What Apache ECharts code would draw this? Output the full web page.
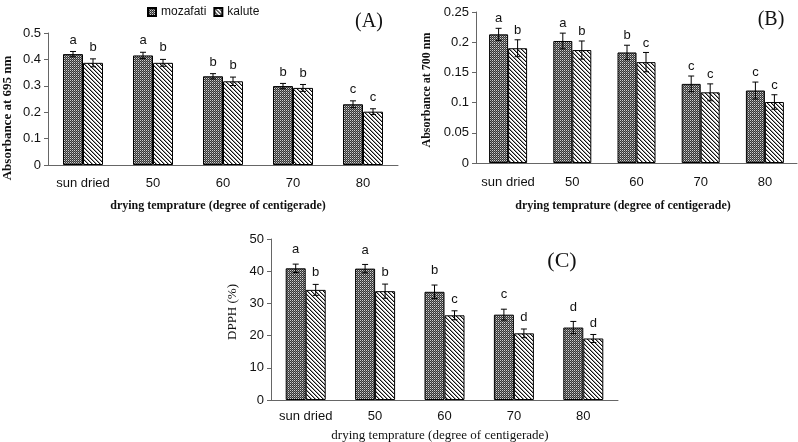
<!DOCTYPE html>
<html><head><meta charset="utf-8">
<script src="https://cdn.jsdelivr.net/npm/echarts@6/dist/echarts.min.js"></script>
<style>html,body{margin:0;padding:0;background:#fff}#c{width:798px;height:442px}</style>
</head><body><div id="c"></div>
<script>
// ---------- data ----------
const categories = ['sun dried', '50', '60', '70', '80'];
const seriesNames = ['mozafati', 'kalute'];

// Panel A: Absorbance at 695 nm
const absA_moz = [0.420, 0.415, 0.336, 0.299, 0.230];
const absA_kal = [0.387, 0.387, 0.317, 0.292, 0.202];
const errA_moz = [0.010, 0.012, 0.010, 0.010, 0.013];
const errA_kal = [0.015, 0.013, 0.016, 0.013, 0.011];
const letA_moz = ['a', 'a', 'b', 'b', 'c'];
const letA_kal = ['b', 'b', 'b', 'b', 'c'];

// Panel B: Absorbance at 700 nm
const absB_moz = [0.213, 0.202, 0.183, 0.131, 0.120];
const absB_kal = [0.190, 0.187, 0.167, 0.117, 0.101];
const errB_moz = [0.010, 0.013, 0.012, 0.013, 0.014];
const errB_kal = [0.014, 0.015, 0.016, 0.014, 0.012];
const letB_moz = ['a', 'a', 'b', 'c', 'c'];
const letB_kal = ['b', 'b', 'c', 'c', 'c'];

// Panel C: DPPH (%)
const dpph_moz = [40.9, 40.8, 33.6, 26.5, 22.5];
const dpph_kal = [34.2, 33.8, 26.3, 20.7, 19.1];
const errC_moz = [1.3, 1.3, 2.1, 1.7, 1.9];
const errC_kal = [1.7, 2.2, 1.4, 1.35, 1.25];
const letC_moz = ['a', 'a', 'b', 'c', 'd'];
const letC_kal = ['b', 'b', 'c', 'd', 'd'];

const axisA = {min: 0, max: 0.5, interval: 0.1};
const axisB = {min: 0, max: 0.25, interval: 0.05};
const axisC = {min: 0, max: 50, interval: 10};

const titleA_y = 'Absorbance at 695 nm';
const titleB_y = 'Absorbance at 700 nm';
const titleC_y = 'DPPH (%)';
const titleX = 'drying temprature (degree of centigerade)';
const panelTags = ['(A)', '(B)', '(C)'];

// ---------- patterns ----------
function makeChecker() {
  const c = document.createElement('canvas'); c.width = 4; c.height = 4;
  const g = c.getContext('2d');
  g.fillStyle = '#353535'; g.fillRect(0, 0, 4, 4);
  g.fillStyle = '#d0d0d0';
  [[0,0],[2,0],[0,2],[2,2]].forEach(p => g.fillRect(p[0], p[1], 1, 1));
  g.fillStyle = '#7a7a7a';
  [[1,1],[3,1],[1,3],[3,3]].forEach(p => g.fillRect(p[0], p[1], 1, 1));
  return c;
}
function makeStripes() {
  const c = document.createElement('canvas'); c.width = 4; c.height = 4;
  const g = c.getContext('2d');
  g.fillStyle = '#ffffff'; g.fillRect(0, 0, 4, 4);
  for (let i = 0; i < 4; i++) {
    g.fillStyle = '#111'; g.fillRect(i, i, 1, 1);
    g.fillStyle = '#9a9a9a'; g.fillRect((i + 1) % 4, i, 1, 1);
  }
  return c;
}
const patMoz = {image: makeChecker(), repeat: 'repeat'};
const patKal = {image: makeStripes(), repeat: 'repeat'};

const sans = 'Liberation Sans';
const serif = 'Liberation Serif';

function barSeries(name, idx, data, pat, bw) {
  return {
    type: 'bar', name: name, xAxisIndex: idx, yAxisIndex: idx, data: data,
    barWidth: bw, barGap: '0%',
    itemStyle: {color: pat, borderColor: '#000', borderWidth: 1},
    emphasis: {disabled: true}, animation: false
  };
}
function errSeries(idx, vals, errs, lets, off, lift) {
  return {
    type: 'custom', xAxisIndex: idx, yAxisIndex: idx, z: 10, animation: false,
    data: vals.map((v, i) => [i, v, errs[i]]),
    renderItem: function (params, api) {
      const i = api.value(0), v = api.value(1), e = api.value(2);
      const hi = api.coord([i, v + e]), lo = api.coord([i, v - e]);
      const x = hi[0] + off;
      const cw = 3;
      const st = {stroke: '#000', lineWidth: 1};
      return {
        type: 'group', children: [
          {type: 'line', shape: {x1: x, y1: hi[1], x2: x, y2: lo[1]}, style: st},
          {type: 'line', shape: {x1: x - cw, y1: hi[1], x2: x + cw, y2: hi[1]}, style: st},
          {type: 'line', shape: {x1: x - cw, y1: lo[1], x2: x + cw, y2: lo[1]}, style: st},
          {type: 'text', x: x, y: hi[1] - lift,
           style: {text: lets[params.dataIndex], fill: '#111', font: '13px ' + sans,
                   align: 'center', verticalAlign: 'bottom'}}
        ]
      };
    }
  };
}

function xAx(idx, margin) {
  return {
    type: 'category', gridIndex: idx, data: categories,
    axisLine: {lineStyle: {color: '#666', width: 1}},
    axisTick: {length: 5, interval: 0, lineStyle: {color: '#666'}},
    axisLabel: {color: '#111', fontFamily: sans, fontSize: 13, margin: margin, interval: 0}
  };
}
function yAx(idx, ax, margin) {
  return {
    type: 'value', gridIndex: idx, min: ax.min, max: ax.max, interval: ax.interval,
    splitLine: {show: false},
    axisLine: {show: true, lineStyle: {color: '#666', width: 1}},
    axisTick: {show: true, length: 4, lineStyle: {color: '#666'}},
    axisLabel: {color: '#111', fontFamily: sans, fontSize: 13, margin: margin}
  };
}

const chart = echarts.init(document.getElementById('c'), null, {renderer: 'canvas'});
chart.setOption({
  backgroundColor: '#fff',
  animation: false,
  legend: {
    data: seriesNames, left: 142, top: 1, itemWidth: 8, itemHeight: 8, itemGap: 7,
    icon: 'rect', textStyle: {fontFamily: sans, fontSize: 12, color: '#111'},
    selectedMode: false
  },
  grid: [
    {left: 48, top: 33, width: 350, height: 132},
    {left: 476, top: 12, width: 321, height: 151},
    {left: 271, top: 239, width: 347, height: 161}
  ],
  xAxis: [xAx(0, 12), xAx(1, 13), xAx(2, 10)],
  yAxis: [yAx(0, axisA, 7), yAx(1, axisB, 7), yAx(2, axisC, 7)],
  series: [
    barSeries(seriesNames[0], 0, absA_moz, patMoz, 20),
    barSeries(seriesNames[1], 0, absA_kal, patKal, 20),
    barSeries(seriesNames[0], 1, absB_moz, patMoz, 19),
    barSeries(seriesNames[1], 1, absB_kal, patKal, 19),
    barSeries(seriesNames[0], 2, dpph_moz, patMoz, 20),
    barSeries(seriesNames[1], 2, dpph_kal, patKal, 20),
    errSeries(0, absA_moz, errA_moz, letA_moz, -10, 5),
    errSeries(0, absA_kal, errA_kal, letA_kal, 10, 5),
    errSeries(1, absB_moz, errB_moz, letB_moz, -9.5, 3),
    errSeries(1, absB_kal, errB_kal, letB_kal, 9.5, 3),
    errSeries(2, dpph_moz, errC_moz, letC_moz, -10, 8),
    errSeries(2, dpph_kal, errC_kal, letC_kal, 10, 5)
  ],
  graphic: [
    {type: 'text', x: 8, y: 118, rotation: Math.PI / 2,
     style: {text: titleA_y, font: 'bold 13px ' + serif, fill: '#111', align: 'center', verticalAlign: 'middle'}},
    {type: 'text', x: 427, y: 90, rotation: Math.PI / 2,
     style: {text: titleB_y, font: 'bold 12px ' + serif, fill: '#111', align: 'center', verticalAlign: 'middle'}},
    {type: 'text', x: 233, y: 312, rotation: Math.PI / 2,
     style: {text: titleC_y, font: '13px ' + serif, fill: '#111', align: 'center', verticalAlign: 'middle'}},
    {type: 'text', x: 218, y: 206,
     style: {text: titleX, font: 'bold 12px ' + serif, fill: '#111', align: 'center', verticalAlign: 'middle'}},
    {type: 'text', x: 623, y: 206,
     style: {text: titleX, font: 'bold 12px ' + serif, fill: '#111', align: 'center', verticalAlign: 'middle'}},
    {type: 'text', x: 440, y: 436,
     style: {text: titleX, font: '13px ' + serif, fill: '#111', align: 'center', verticalAlign: 'middle'}},
    {type: 'text', x: 369, y: 22,
     style: {text: panelTags[0], font: '20px ' + serif, fill: '#111', align: 'center', verticalAlign: 'middle'}},
    {type: 'text', x: 771, y: 20,
     style: {text: panelTags[1], font: '20px ' + serif, fill: '#111', align: 'center', verticalAlign: 'middle'}},
    {type: 'text', x: 562, y: 261,
     style: {text: panelTags[2], font: '22px ' + serif, fill: '#111', align: 'center', verticalAlign: 'middle'}}
  ]
});
</script></body></html>
